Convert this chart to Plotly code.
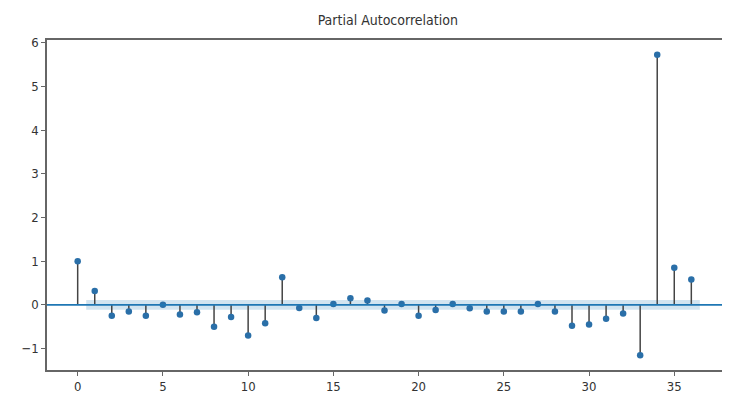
import plotly.graph_objects as go

lags = list(range(37))
pacf = [1.0, 0.32, -0.25, -0.15, -0.25, 0.0, -0.22, -0.17, -0.5, -0.28,
        -0.7, -0.42, 0.63, -0.07, -0.3, 0.02, 0.15, 0.1, -0.13, 0.02,
        -0.25, -0.12, 0.02, -0.08, -0.15, -0.15, -0.15, 0.02, -0.15, -0.48,
        -0.45, -0.32, -0.2, -1.15, 5.72, 0.85, 0.58]
conf = 0.11
band_x = [0.5, 36.5]
x_ticks = [0, 5, 10, 15, 20, 25, 30, 35]
y_ticks = [-1, 0, 1, 2, 3, 4, 5, 6]

font_family = "Liberation Sans Narrow, DejaVu Sans Condensed, DejaVu Sans, sans-serif"
blue = "#1f77b4"

fig = go.Figure()

# confidence band
fig.add_trace(go.Scatter(
    x=[band_x[0], band_x[1], band_x[1], band_x[0]],
    y=[conf, conf, -conf, -conf],
    fill="toself", fillcolor="rgba(31,119,180,0.2)",
    line=dict(width=0), mode="lines", hoverinfo="skip", showlegend=False))

# zero line
fig.add_hline(y=0, line=dict(color=blue, width=1.6))

# stems
sx, sy = [], []
for l, v in zip(lags, pacf):
    sx += [l, l, None]
    sy += [0, v, None]
fig.add_trace(go.Scatter(x=sx, y=sy, mode="lines",
                         line=dict(color="#444444", width=1.5),
                         showlegend=False, hoverinfo="skip"))

# markers
fig.add_trace(go.Scatter(x=lags, y=pacf, mode="markers",
                         marker=dict(color="#2a6fa8", size=6.5),
                         showlegend=False))

axis_common = dict(showgrid=False, zeroline=False, showline=True, mirror=True,
                   linecolor="#666666", linewidth=1.5, ticks="outside",
                   ticklen=4, tickcolor="#666666", tickwidth=1,
                   automargin=False,
                   tickfont=dict(family=font_family, size=13, color="#333333"))

fig.update_xaxes(range=[-1.8, 37.8], tickvals=x_ticks, **axis_common)
fig.update_yaxes(range=[-1.49, 6.06], tickvals=y_ticks, **axis_common)

fig.update_layout(
    width=722, height=404,
    margin=dict(l=39, r=8, t=32, b=42),
    paper_bgcolor="white", plot_bgcolor="white",
    title=dict(text="Partial Autocorrelation", x=0.526, xanchor="center",
               y=0.97, yanchor="middle",
               font=dict(family=font_family, size=14, color="#333333")),
)

fig.write_html("out.html")
